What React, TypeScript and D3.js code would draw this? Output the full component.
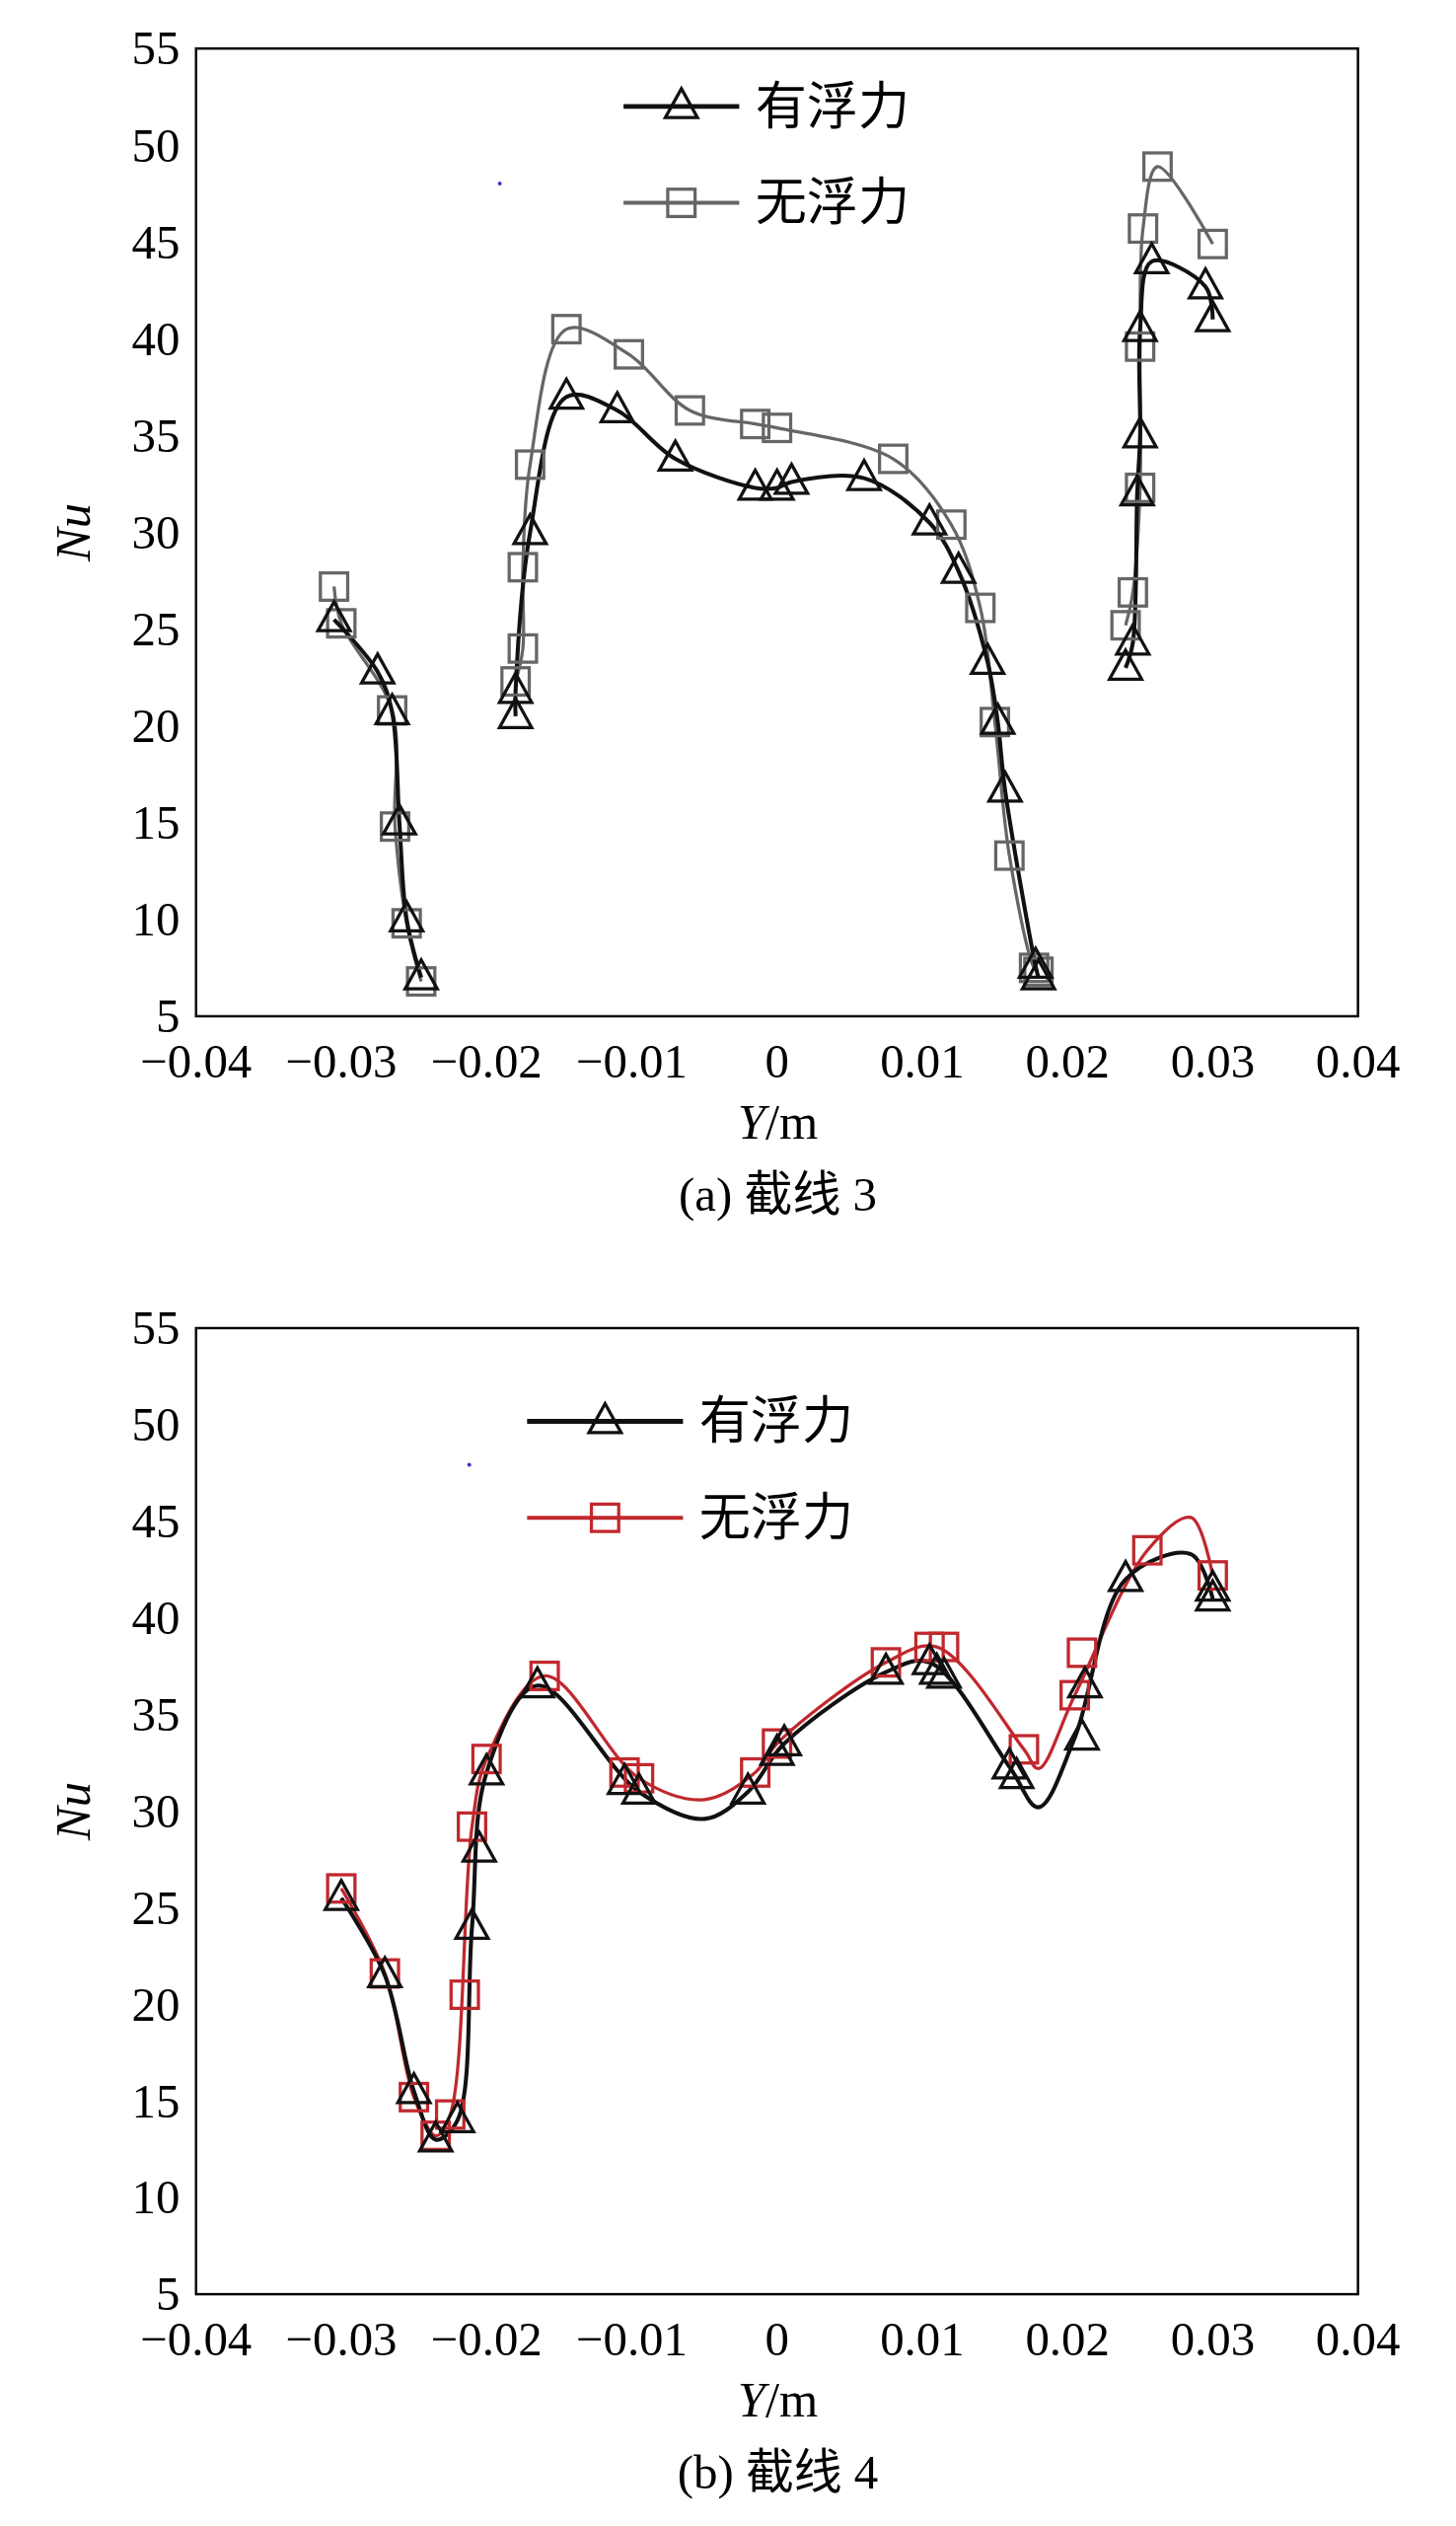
import * as d3 from "d3";

type P = [number, number];

// panel (a) 截线 3
const aBuoy: P[][] = [
  [[-0.0305, 25.5], [-0.0275, 22.8], [-0.0265, 20.7], [-0.026, 15], [-0.0255, 10], [-0.0245, 7]],
  [[-0.018, 20.5], [-0.018, 21.8], [-0.017, 30], [-0.0145, 37], [-0.011, 36.3], [-0.007, 33.8], [-0.0015, 32.3], [0, 32.3], [0.001, 32.6], [0.006, 32.8], [0.0105, 30.5], [0.0125, 28], [0.0145, 23.3], [0.0152, 20.2], [0.0157, 16.7], [0.0178, 7.6], [0.018, 7]],
  [[0.024, 23], [0.0245, 24.3], [0.0248, 32], [0.025, 35], [0.025, 40.5], [0.0258, 44], [0.0295, 42.7], [0.030, 41]],
];
const aNoBuoy: P[][] = [
  [[-0.0305, 27.2], [-0.03, 25.3], [-0.0265, 20.8], [-0.0263, 14.8], [-0.0255, 9.8], [-0.0245, 6.8]],
  [[-0.018, 22.3], [-0.0175, 24], [-0.0175, 28.2], [-0.017, 33.5], [-0.0145, 40.5], [-0.0102, 39.2], [-0.006, 36.3], [-0.0015, 35.6], [0, 35.4], [0.008, 33.8], [0.012, 30.4], [0.014, 26.1], [0.015, 20.2], [0.016, 13.3], [0.0177, 7.5], [0.018, 7.3]],
  [[0.024, 25.2], [0.0245, 26.9], [0.025, 32.3], [0.025, 39.6], [0.0252, 45.7], [0.0262, 48.9], [0.030, 44.9]],
];

// panel (b) 截线 4 : markers and smooth curve points
const bBuoy: P[] = [[-0.030, 25.5], [-0.027, 21.5], [-0.025, 15.5], [-0.0235, 13], [-0.022, 14], [-0.021, 24], [-0.0205, 28], [-0.02, 32], [-0.0165, 36.5], [-0.0105, 31.5], [-0.0095, 31], [-0.002, 31], [0, 33], [0.0005, 33.5], [0.0075, 37.2], [0.0105, 37.7], [0.011, 37.2], [0.0115, 37], [0.016, 32.3], [0.0165, 31.8], [0.021, 33.8], [0.0212, 36.5], [0.024, 42], [0.030, 41.5], [0.030, 41]];
const bBuoyLine: P[] = [[-0.030, 25.5], [-0.027, 21.5], [-0.025, 15.5], [-0.0235, 13], [-0.022, 14], [-0.021, 24], [-0.02, 32], [-0.0165, 36.5], [-0.0095, 31], [-0.005, 29.6], [-0.002, 31], [0.0005, 33.5], [0.0075, 37.2], [0.0105, 37.7], [0.016, 32.3], [0.018, 30.2], [0.0205, 33.8], [0.024, 42], [0.0285, 43.3], [0.030, 41]];
const bNoBuoy: P[] = [[-0.030, 26], [-0.027, 21.6], [-0.025, 15.2], [-0.0235, 13.2], [-0.0225, 14.3], [-0.0215, 20.5], [-0.021, 29.2], [-0.02, 32.7], [-0.016, 37], [-0.0105, 32], [-0.0095, 31.7], [-0.0015, 32], [0, 33.5], [0.0075, 37.7], [0.0105, 38.5], [0.0115, 38.5], [0.017, 33.2], [0.0205, 36], [0.021, 38.2], [0.0255, 43.5], [0.030, 42.2]];
const bNoBuoyLine: P[] = [[-0.030, 26], [-0.027, 21.6], [-0.025, 15.2], [-0.0235, 13.2], [-0.0225, 14.3], [-0.021, 29.2], [-0.02, 32.7], [-0.016, 37], [-0.0095, 31.7], [-0.005, 30.6], [-0.0015, 32], [0, 33.5], [0.0075, 37.7], [0.011, 38.5], [0.017, 33.2], [0.018, 32.2], [0.0205, 36], [0.0255, 43.5], [0.0285, 45.2], [0.030, 42.2]];

const xTicks = [-0.04, -0.03, -0.02, -0.01, 0, 0.01, 0.02, 0.03, 0.04];
const yTicks = [5, 10, 15, 20, 25, 30, 35, 40, 45, 50, 55];
const legendNames = ["有浮力", "无浮力"];

const FONT = "'Liberation Serif', 'Noto Sans CJK SC', serif";
const fmt = (v: number) => (v === 0 ? "0" : (v < 0 ? "\u22120" : "0") + d3.format(".2f")(Math.abs(v)).slice(1));

const tri = (x: number, y: number, c: string, k: number) => (
  <path key={k} d={`M${x},${y - 11}L${x + 10},${y + 7}L${x - 10},${y + 7}Z`} fill="none" stroke={c} strokeWidth={2} />
);
const sq = (x: number, y: number, c: string, k: number) => (
  <rect key={k} x={x - 8.5} y={y - 8.5} width={17} height={17} fill="none" stroke={c} strokeWidth={2} />
);

const Panel = ({ top, bottom, lines1, lines2, pts1, pts2, c1, c2, legX, legY, legLen, caption }: any) => {
  const x = d3.scaleLinear().domain([-0.04, 0.04]).range([122, 845]);
  const y = d3.scaleLinear().domain([5, 55]).range([bottom, top]);
  const line = d3.line<P>().x(d => x(d[0])).y(d => y(d[1])).curve(d3.curveCatmullRom.alpha(0.5));
  return (
    <g fontFamily={FONT}>
      <rect x={122} y={top} width={723} height={bottom - top} fill="none" stroke="#000" strokeWidth={1.5} />
      {yTicks.map(t => (
        <text key={t} x={112} y={y(t) + 10} fontSize={30} textAnchor="end">{t}</text>
      ))}
      {xTicks.map(t => (
        <text key={t} x={x(t)} y={bottom + 38} fontSize={30} textAnchor="middle">{fmt(t)}</text>
      ))}
      <text transform={`translate(56,${(top + bottom) / 2}) rotate(-90)`} fontSize={31} fontStyle="italic" textAnchor="middle">Nu</text>
      <text x={484} y={bottom + 76} fontSize={31} textAnchor="middle"><tspan fontStyle="italic">Y</tspan>/m</text>
      <text x={484} y={bottom + 121} fontSize={30} textAnchor="middle">{caption}</text>
      {lines2.map((s: P[], i: number) => <path key={"b" + i} d={line(s) ?? ""} fill="none" stroke={c2} strokeWidth={2} />)}
      {lines1.map((s: P[], i: number) => <path key={"a" + i} d={line(s) ?? ""} fill="none" stroke={c1} strokeWidth={2.5} />)}
      {pts2.map((d: P, i: number) => sq(x(d[0]), y(d[1]), c2, i))}
      {pts1.map((d: P, i: number) => tri(x(d[0]), y(d[1]), "#111", i))}
      <line x1={legX} x2={legX + legLen} y1={legY} y2={legY} stroke={c1} strokeWidth={3} />
      {tri(legX + legLen / 2, legY, "#111", 0)}
      <text x={legX + legLen + 10} y={legY + 11} fontSize={32}>{legendNames[0]}</text>
      <line x1={legX} x2={legX + legLen} y1={legY + 60} y2={legY + 60} stroke={c2} strokeWidth={2.5} />
      {sq(legX + legLen / 2, legY + 60, c2, 0)}
      <text x={legX + legLen + 10} y={legY + 71} fontSize={32}>{legendNames[1]}</text>
    </g>
  );
};

export default function App() {
  return (
    <svg width={1476} height={2560} viewBox="0 0 906 1571" style={{ position: "absolute", left: 0, top: 0, background: "#fff" }}>
      <rect width={906} height={1571} fill="#fff" />
      <Panel top={30} bottom={632} lines1={aBuoy} lines2={aNoBuoy} pts1={aBuoy.flat()} pts2={aNoBuoy.flat()}
        c1="#111" c2="#666" legX={388} legY={66} legLen={72} caption="(a) 截线 3" />
      <Panel top={826} bottom={1427} lines1={[bBuoyLine]} lines2={[bNoBuoyLine]} pts1={bBuoy} pts2={bNoBuoy}
        c1="#111" c2="#c0282d" legX={328} legY={884} legLen={97} caption="(b) 截线 4" />
      <circle cx={311} cy={114} r={1.2} fill="#33c" />
      <circle cx={292} cy={911} r={1.2} fill="#33c" />
    </svg>
  );
}
